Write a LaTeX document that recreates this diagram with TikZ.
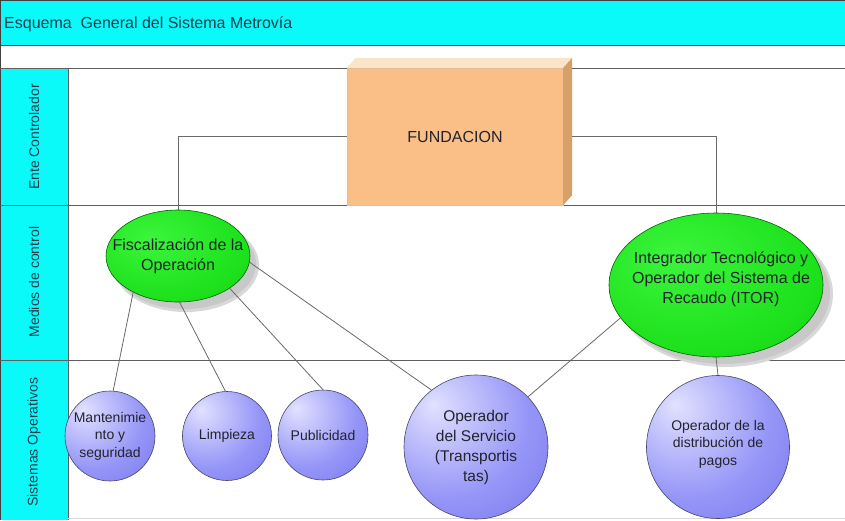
\documentclass[tikz,border=0pt]{standalone}
\usepackage{fontspec}
\setmainfont{Liberation Sans}
\usetikzlibrary{shapes.geometric}
\definecolor{bandcyan}{RGB}{10,250,250}
\definecolor{txtteal}{RGB}{30,62,78}
\definecolor{lanegray}{RGB}{95,95,95}
\definecolor{linkgray}{RGB}{105,105,105}
\definecolor{shadowgray}{RGB}{200,200,200}
\definecolor{fundfront}{RGB}{250,190,135}
\definecolor{fundtop}{RGB}{252,228,200}
\definecolor{fundside}{RGB}{215,160,105}
\definecolor{grnlight}{RGB}{60,245,60}
\definecolor{grnmid}{RGB}{28,225,28}
\definecolor{grndark}{RGB}{15,190,15}
\definecolor{grnedge}{RGB}{0,100,0}
\definecolor{purlight}{RGB}{225,225,255}
\definecolor{purmid}{RGB}{150,150,248}
\definecolor{purdark}{RGB}{92,92,226}
\definecolor{puredge}{RGB}{70,70,105}
\definecolor{nodetext}{RGB}{35,35,45}
\pgfdeclareradialshading{grnshade}{\pgfpoint{-10bp}{10bp}}{color(0bp)=(grnlight); color(30bp)=(grnmid); color(60bp)=(grndark); color(85bp)=(grndark)}
\pgfdeclareradialshading{purshade}{\pgfpoint{-15bp}{15bp}}{color(0bp)=(purlight); color(28bp)=(purmid); color(65bp)=(purdark); color(90bp)=(purdark)}
\pgfdeclarelayer{back}
\pgfdeclarelayer{mid}
\pgfsetlayers{back,mid,main}
\tikzset{
  lanerule/.style={draw=lanegray, line width=1pt},
  framerule/.style={draw=black!75, line width=1pt},
  link/.style={draw=linkgray, line width=0.8pt},
  shadowfill/.style={fill=shadowgray},
  greenell/.style={ellipse, draw=grnedge, line width=0.6pt, shading=grnshade, inner sep=0pt},
  purcirc/.style={circle, draw=puredge, line width=0.6pt, shading=purshade, inner sep=0pt},
  lanelabel/.style={rotate=90, text=txtteal, font=\fontsize{14}{16}\selectfont},
  titletext/.style={text=txtteal, font=\fontsize{16}{19}\selectfont, inner sep=0pt},
  bigtxt/.style={align=center, text=nodetext, font=\fontsize{16}{20}\selectfont, inner sep=0pt},
  midtxt/.style={align=center, text=nodetext, font=\fontsize{15.5}{20}\selectfont, inner sep=0pt},
  smalltxt/.style={align=center, text=nodetext, font=\fontsize{14}{17.5}\selectfont, inner sep=0pt},
  fundbox/.style={rectangle, fill=fundfront, draw=fundside!70, line width=0.3pt,
    minimum width=216pt, minimum height=137pt, inner sep=0pt, text=nodetext,
    font=\fontsize{16}{19}\selectfont}
}
\begin{document}
\begin{tikzpicture}[x=1pt, y=-1pt]
\useasboundingbox (0,0) rectangle (845,520);

% nodes
\node[titletext, anchor=base west] (title) at (4,28) {Esquema\ \ General del Sistema Metrovía};
\node[lanelabel] (lane1) at (34,137) {Ente Controlador};
\node[lanelabel] (lane2) at (34,282) {Medios de control};
\node[lanelabel] (lane3) at (34,442) {Sistemas Operativos};

\node[fundbox] (fund) at (455,136.5) {FUNDACION};
\fill[fundtop] (fund.north west) -- ++(9,-10) -- ([shift={(9,-10)}]fund.north east) -- (fund.north east) -- cycle;
\fill[fundside] (fund.north east) -- ++(9,-10) -- ([shift={(9,-10)}]fund.south east) -- (fund.south east) -- cycle;

\node[greenell, minimum width=144pt, minimum height=92pt,
  label={[bigtxt]center:Fiscalización de la\\Operación}] (fis) at (178,256) {};
\node[greenell, minimum width=214pt, minimum height=144pt,
  label={[bigtxt, xshift=5pt, yshift=6pt]center:Integrador Tecnológico y\\Operador del Sistema de\\Recaudo (ITOR)}] (itor) at (716,285) {};

\node[purcirc, minimum size=90pt,
  label={[smalltxt]center:Mantenimie\\nto y\\seguridad}] (mant) at (110,436) {};
\node[purcirc, minimum size=89pt,
  label={[smalltxt]center:Limpieza}] (limp) at (227,436) {};
\node[purcirc, minimum size=90pt,
  label={[smalltxt]center:Publicidad}] (pub) at (323,435) {};
\node[purcirc, minimum size=144pt,
  label={[midtxt]center:Operador\\del Servicio\\(Transportis\\tas)}] (serv) at (476,447) {};
\node[purcirc, minimum size=143pt,
  label={[smalltxt, yshift=3pt]center:Operador de la\\distribución de\\pagos}] (dist) at (718,447) {};

% shadows and connectors
\begin{pgfonlayer}{mid}
\fill[shadowgray!70] ([shift={(8,9)}]fis.center) ellipse [x radius=73, y radius=47];
\fill[shadowgray] ([shift={(7,8)}]fis.center) ellipse [x radius=71, y radius=45];
\fill[shadowgray!70] ([shift={(9,9)}]itor.center) ellipse [x radius=108, y radius=73];
\fill[shadowgray] ([shift={(8,8)}]itor.center) ellipse [x radius=106, y radius=71];
\draw[link] (fund.west) -| (fis.north);
\draw[link] (fund.east) -| (itor.north);
\draw[link] (fis.219) -- (mant.86);
\draw[link] (fis.272) -- (limp.92);
\draw[link] (fis.328) -- (pub.90);
\draw[link] (fis.355) -- (serv.128);
\draw[link] (itor.199) -- (serv.44);
\draw[link] (itor.south) -- (dist.north);
\end{pgfonlayer}

% background: bands and lanes
\begin{pgfonlayer}{back}
\fill[white] (0,0) rectangle (845,520);
\fill[bandcyan] (0,0) rectangle (845,45);
\fill[bandcyan] (0,68) rectangle (68,520);
\draw[framerule] (0,0.5) -- (845,0.5);
\draw[framerule] (0,45) -- (845,45);
\draw[framerule] (0.6,0) -- (0.6,520);
\draw[lanerule] (0,68) -- (845,68);
\draw[lanerule] (0,205) -- (845,205);
\draw[lanerule] (0,360) -- (845,360);
\draw[lanerule] (68,68) -- (68,520);
\draw[draw=black!15, line width=1pt] (68,518.5) -- (845,518.5);
\end{pgfonlayer}
\end{tikzpicture}
\end{document}
